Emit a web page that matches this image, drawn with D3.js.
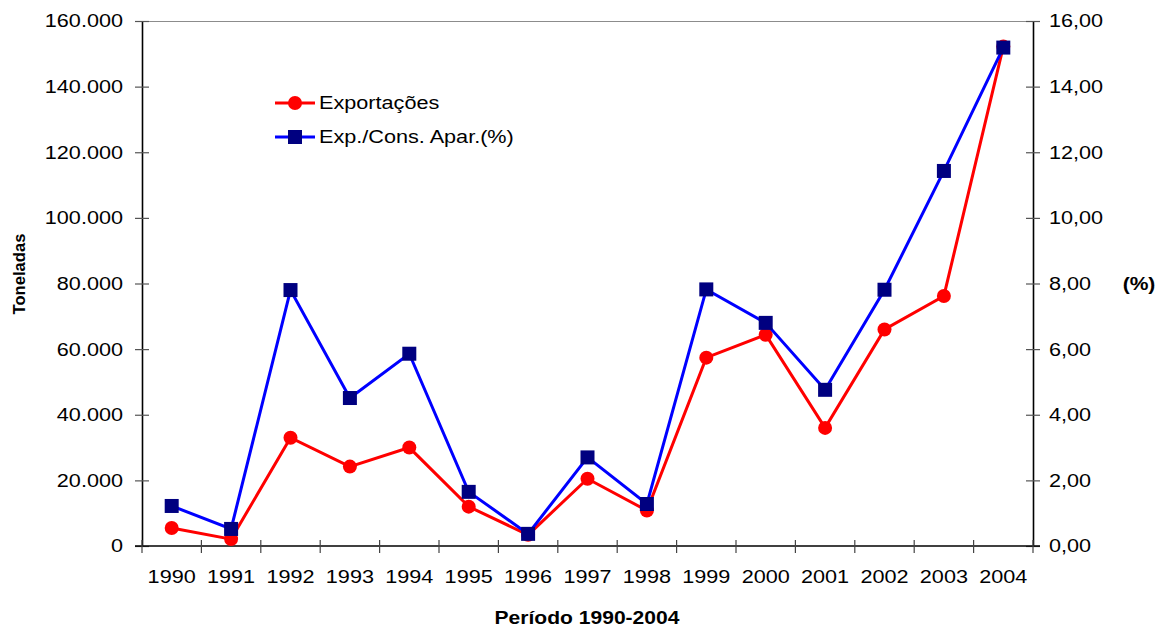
<!DOCTYPE html>
<html>
<head>
<meta charset="utf-8">
<script src="https://cdn.jsdelivr.net/npm/d3@7"></script>
<style>
  html, body { margin: 0; padding: 0; background: #fff; }
  svg { display: block; font-family: "Liberation Sans", Arial, sans-serif; }
</style>
</head>
<body>
<svg id="chart" width="1158" height="627"></svg>
<script>
// Anos do período
const anos = ["1990","1991","1992","1993","1994","1995","1996","1997","1998","1999","2000","2001","2002","2003","2004"];
// Exportações (toneladas)
const exportacoes = [5500, 2100, 33000, 24200, 30000, 12000, 3400, 20500, 10800, 57400, 64400, 36000, 66000, 76200, 152200];
// Exportações / consumo aparente (%)
const expConsAparPct = [1.22, 0.52, 7.80, 4.51, 5.86, 1.65, 0.37, 2.70, 1.28, 7.82, 6.80, 4.76, 7.81, 11.43, 15.19];
// Marcas dos eixos
const ticksToneladas = [0, 20000, 40000, 60000, 80000, 100000, 120000, 140000, 160000];
const ticksPct = [0, 2, 4, 6, 8, 10, 12, 14, 16];
const nomesSeries = ["Exportações", "Exp./Cons. Apar.(%)"];

const svg = d3.select("#chart");
const m = { left: 142, right: 1033, top: 21, bottom: 546 };
const FS = 18.5;      // tamanho da fonte dos rótulos
const SX = 1.17;      // alargamento horizontal do texto

const x = d3.scaleBand().domain(anos).range([m.left, m.right]).paddingInner(0).paddingOuter(0);
const yL = d3.scaleLinear().domain([0, 160000]).range([m.bottom, m.top]);
const yR = d3.scaleLinear().domain([0, 16]).range([m.bottom, m.top]);

const fmtT = d => d3.format(",")(d).replace(/,/g, ".");
const fmtP = d => d3.format(".2f")(d).replace(".", ",");

// Alarga um texto horizontalmente em torno do seu ponto de ancoragem
function widen(sel) {
  sel.each(function () {
    const t = d3.select(this);
    const tx = +t.attr("x") || 0, ty = +t.attr("y") || 0;
    t.attr("transform", `translate(${tx},${ty}) scale(${SX},1) translate(${-tx},${-ty})`);
  });
}

// Linha superior da área do gráfico
svg.append("line")
  .attr("x1", m.left).attr("x2", m.right)
  .attr("y1", m.top + 0.5).attr("y2", m.top + 0.5)
  .attr("stroke", "#8c8c8c").attr("stroke-width", 1);

function styleAxis(g) {
  g.selectAll(".domain").attr("stroke", "#000").attr("stroke-width", 1.6);
  g.selectAll(".tick line").attr("stroke", "#555").attr("stroke-width", 1.2);
  g.selectAll(".tick text").attr("fill", "#000").attr("font-size", FS)
    .attr("font-family", "'Liberation Sans', Arial, sans-serif");
}

// Eixo esquerdo (toneladas)
const gL = svg.append("g").attr("transform", `translate(${m.left},0)`)
  .call(d3.axisLeft(yL).tickValues(ticksToneladas).tickFormat(fmtT).tickSizeInner(7).tickSizeOuter(0).tickPadding(12));
gL.selectAll(".tick line").attr("x2", 7).attr("x1", -7);
styleAxis(gL);
widen(gL.selectAll(".tick text"));

// Eixo direito (%)
const gR = svg.append("g").attr("transform", `translate(${m.right},0)`)
  .call(d3.axisRight(yR).tickValues(ticksPct).tickFormat(fmtP).tickSizeInner(7).tickSizeOuter(0).tickPadding(9));
gR.selectAll(".tick line").attr("x1", -7).attr("x2", 7);
styleAxis(gR);
widen(gR.selectAll(".tick text"));

// Eixo inferior: marcas entre as categorias
const gB = svg.append("g").attr("transform", `translate(0,${m.bottom})`);
gB.append("line").attr("x1", m.left - 7).attr("x2", m.right + 7).attr("y1", 0).attr("y2", 0)
  .attr("stroke", "#000").attr("stroke-width", 1.6);
const limites = anos.map(a => x(a)).concat([m.right]);
gB.selectAll("line.tk").data(limites).join("line").attr("class", "tk")
  .attr("x1", d => d).attr("x2", d => d).attr("y1", -6).attr("y2", 7)
  .attr("stroke", "#444").attr("stroke-width", 1.2);
gB.selectAll("text").data(anos).join("text")
  .attr("x", d => x(d) + x.bandwidth() / 2).attr("y", 37)
  .attr("text-anchor", "middle").attr("font-size", FS).attr("fill", "#000")
  .text(d => d)
  .call(widen);

// Títulos dos eixos
svg.append("text").attr("transform", "translate(25,274) rotate(-90)")
  .attr("text-anchor", "middle").attr("font-size", 16.6).attr("font-weight", "bold").text("Toneladas");
svg.append("text").attr("x", 1139).attr("y", 290)
  .attr("text-anchor", "middle").attr("font-size", 18).attr("font-weight", "bold").text("(%)")
  .call(widen);
svg.append("text").attr("x", 587).attr("y", 624)
  .attr("text-anchor", "middle").attr("font-size", 18).attr("font-weight", "bold").text("Período 1990-2004")
  .call(widen);

const cx = d => x(d) + x.bandwidth() / 2;

// Série Exportações
const linhaExp = d3.line().x((d, i) => cx(anos[i])).y(d => yL(d));
svg.append("path").datum(exportacoes).attr("d", linhaExp)
  .attr("fill", "none").attr("stroke", "#ff0000").attr("stroke-width", 3);
svg.append("g").selectAll("circle").data(exportacoes).join("circle")
  .attr("cx", (d, i) => cx(anos[i])).attr("cy", d => yL(d)).attr("r", 7).attr("fill", "#ff0000");

// Série Exp./Cons. Apar. (%)
const linhaPct = d3.line().x((d, i) => cx(anos[i])).y(d => yR(d));
svg.append("path").datum(expConsAparPct).attr("d", linhaPct)
  .attr("fill", "none").attr("stroke", "#0000ff").attr("stroke-width", 3);
svg.append("g").selectAll("rect").data(expConsAparPct).join("rect")
  .attr("x", (d, i) => cx(anos[i]) - 7).attr("y", d => yR(d) - 7)
  .attr("width", 14).attr("height", 14).attr("fill", "#000080");

// Legenda
const leg = svg.append("g");
const legY = [103, 137];
const legCores = ["#ff0000", "#0000ff"];
leg.selectAll("line").data(nomesSeries).join("line")
  .attr("x1", 275).attr("x2", 315).attr("y1", (d, i) => legY[i]).attr("y2", (d, i) => legY[i])
  .attr("stroke", (d, i) => legCores[i]).attr("stroke-width", 3);
leg.append("circle").attr("cx", 295).attr("cy", legY[0]).attr("r", 7).attr("fill", "#ff0000");
leg.append("rect").attr("x", 288).attr("y", legY[1] - 7).attr("width", 14).attr("height", 14).attr("fill", "#000080");
leg.selectAll("text").data(nomesSeries).join("text")
  .attr("x", 319).attr("y", (d, i) => legY[i] + 6.5)
  .attr("font-size", FS).attr("fill", "#000").text(d => d)
  .call(widen);
</script>
</body>
</html>
